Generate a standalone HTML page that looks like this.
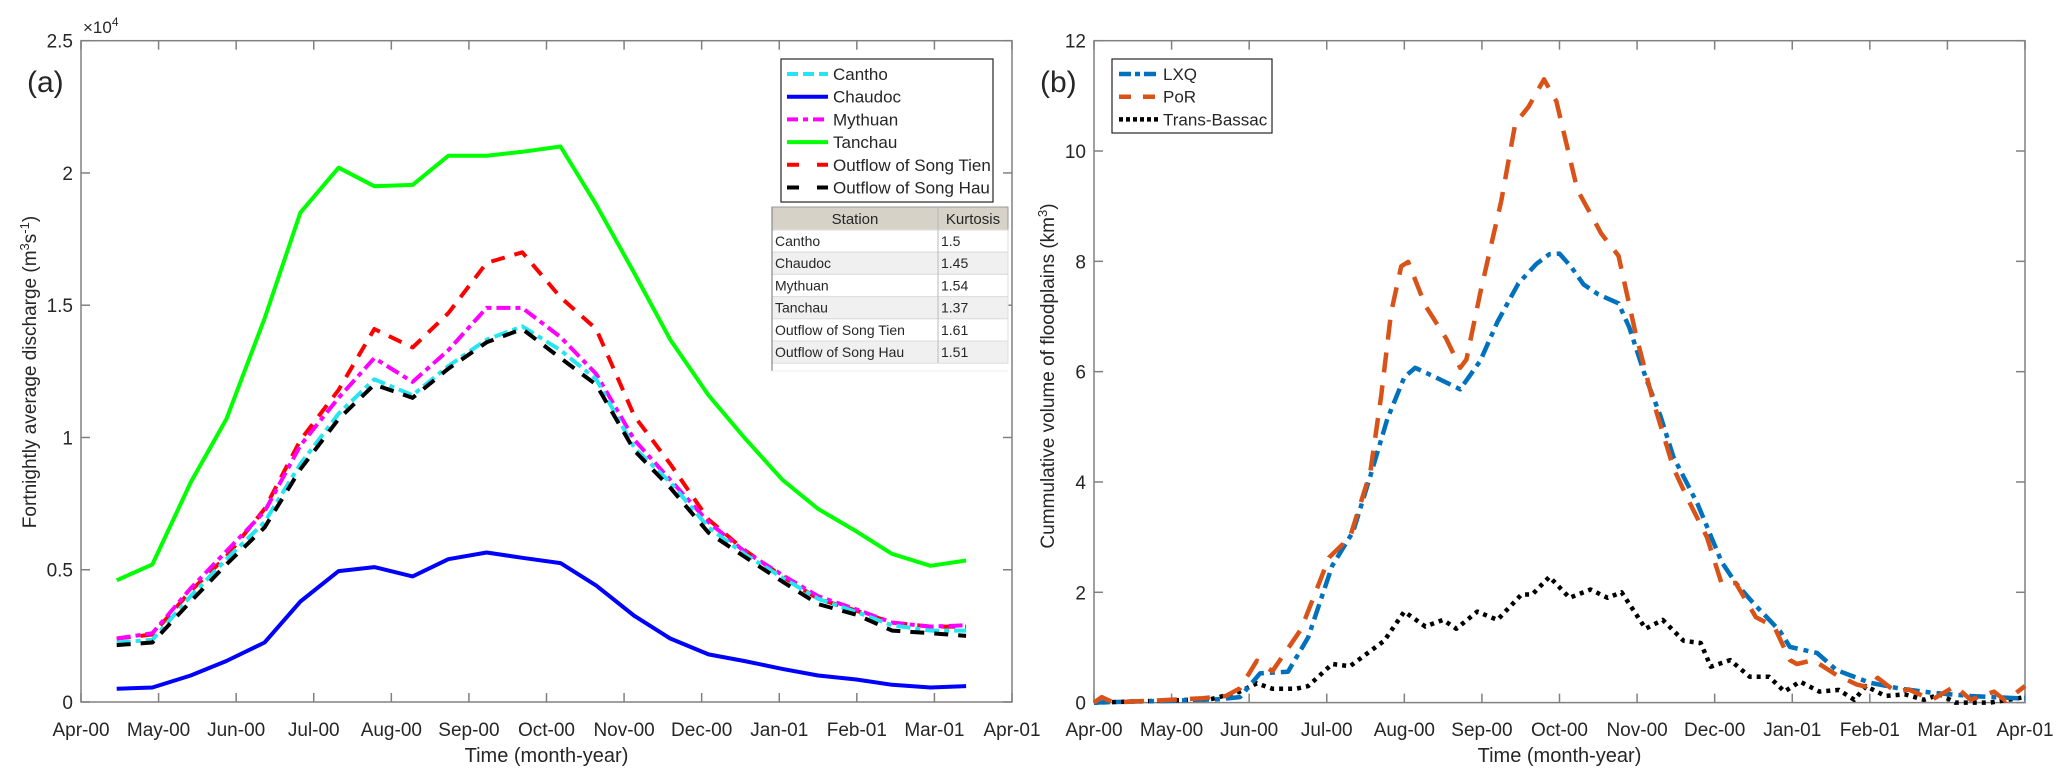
<!DOCTYPE html>
<html><head><meta charset="utf-8"><style>
html,body{margin:0;padding:0;background:#fff;}
svg text{font-family:"Liberation Sans",Arial,sans-serif;fill:#262626;}
</style></head><body>
<svg id="fig" width="2067" height="778" xmlns="http://www.w3.org/2000/svg">
<g id="pa"></g>
<g id="pb"></g>
</svg>
<script>
// ---- Panel (a) data ----
const monthLabels = ["Apr-00","May-00","Jun-00","Jul-00","Aug-00","Sep-00","Oct-00","Nov-00","Dec-00","Jan-01","Feb-01","Mar-01","Apr-01"];
const aDays = [14,28,43,57,72,86,101,115,130,144,159,173,188,202,217,231,246,260,275,289,304,318,333,347];
const aYTicks = [0,0.5,1,1.5,2,2.5];
const cantho = [0.225,0.235,0.40,0.54,0.68,0.90,1.09,1.22,1.16,1.27,1.37,1.42,1.33,1.22,0.96,0.83,0.66,0.56,0.47,0.39,0.34,0.29,0.27,0.27];
const chaudoc = [0.05,0.055,0.10,0.155,0.225,0.38,0.495,0.51,0.475,0.54,0.565,0.545,0.525,0.44,0.325,0.24,0.18,0.155,0.125,0.10,0.085,0.065,0.055,0.06];
const mythuan = [0.24,0.26,0.43,0.57,0.72,0.97,1.15,1.30,1.21,1.33,1.49,1.49,1.38,1.24,0.99,0.84,0.68,0.57,0.48,0.40,0.35,0.30,0.285,0.29];
const tanchau = [0.46,0.52,0.83,1.07,1.45,1.85,2.02,1.95,1.955,2.065,2.065,2.08,2.10,1.88,1.62,1.37,1.16,1.00,0.84,0.73,0.645,0.56,0.515,0.535];
const songTien = [0.24,0.255,0.42,0.55,0.73,0.99,1.18,1.41,1.34,1.47,1.66,1.70,1.53,1.41,1.08,0.90,0.69,0.575,0.475,0.39,0.345,0.30,0.285,0.285];
const songHau = [0.215,0.225,0.38,0.52,0.66,0.88,1.07,1.20,1.15,1.26,1.36,1.41,1.30,1.20,0.95,0.81,0.64,0.55,0.455,0.37,0.33,0.27,0.26,0.25];
const kurtStations = ["Cantho","Chaudoc","Mythuan","Tanchau","Outflow of Song Tien","Outflow of Song Hau"];
const kurtValues = ["1.5","1.45","1.54","1.37","1.61","1.51"];
// ---- Panel (b) data (months since Apr-00, km3) ----
const lxqT = [0,0.5,1,1.3,1.6,1.88,2.14,2.5,2.76,3.07,3.34,3.56,3.78,4.0,4.14,4.4,4.72,4.98,5.2,5.47,5.7,5.87,6.0,6.15,6.31,6.5,6.76,6.9,7.11,7.3,7.47,7.78,8.09,8.27,8.5,8.84,8.97,9.32,9.57,10.0,10.4,10.8,11.3,11.9,12];
const lxqV = [0,0.02,0.03,0.05,0.06,0.1,0.53,0.56,1.18,2.48,3.1,4.1,5.14,5.9,6.07,5.9,5.68,6.2,6.9,7.6,7.95,8.13,8.14,7.9,7.58,7.4,7.24,6.8,5.9,5.2,4.45,3.6,2.55,2.17,1.8,1.3,1.01,0.9,0.59,0.36,0.25,0.18,0.12,0.08,0.08];
const porT = [0,0.1,0.25,0.5,1.0,1.4,1.7,1.88,2.1,2.3,2.67,3.03,3.3,3.56,3.7,3.83,3.96,4.05,4.27,4.54,4.72,4.8,4.98,5.25,5.43,5.6,5.8,5.96,6.23,6.54,6.76,6.98,7.2,7.47,7.65,7.9,8.09,8.27,8.53,8.77,8.97,9.06,9.27,9.57,9.83,10.0,10.1,10.33,10.5,10.8,11.1,11.3,11.6,11.75,12.0];
const porV = [0,0.1,0,0.02,0.05,0.08,0.12,0.26,0.76,0.57,1.33,2.63,3.0,4.17,5.55,7.07,7.91,7.99,7.2,6.6,6.07,6.22,7.44,9.1,10.5,10.8,11.3,10.9,9.3,8.5,8.1,6.7,5.5,4.25,3.7,3.0,2.16,2.17,1.55,1.37,0.77,0.7,0.77,0.5,0.33,0.27,0.45,0.2,0.24,0.05,0.3,0.05,0.2,0.03,0.3];
const tbT = [0,0.5,1,1.5,1.88,2.1,2.3,2.6,2.76,3.07,3.3,3.74,4.0,4.27,4.5,4.67,4.94,5.2,5.51,5.65,5.87,6.13,6.4,6.62,6.8,7.11,7.33,7.6,7.82,7.95,8.2,8.45,8.7,8.9,9.1,9.35,9.6,9.8,9.95,10.2,10.45,10.7,10.9,11.1,11.55,12.0];
const tbV = [0,0.02,0.04,0.06,0.2,0.35,0.25,0.25,0.3,0.7,0.66,1.12,1.65,1.38,1.5,1.34,1.65,1.5,1.96,1.96,2.28,1.9,2.05,1.9,2.0,1.34,1.5,1.12,1.08,0.65,0.77,0.47,0.47,0.2,0.38,0.2,0.23,0.05,0.3,0.12,0.15,0.05,0.15,0,0,0.1];
const bYTicks = [0,2,4,6,8,10,12];

const NS="http://www.w3.org/2000/svg";
function mk(parent,tag,attrs,text){const e=document.createElementNS(NS,tag);for(const k in attrs)e.setAttribute(k,attrs[k]);if(text!==undefined)e.textContent=text;parent.appendChild(e);return e;}

function axes(g,L,R,T,B,yTicks,yFn,yFmt){
  const box=mk(g,'rect',{x:L,y:T,width:R-L,height:B-T,fill:'none',stroke:'#808080','stroke-width':1.5});
  
  
  const mw=(R-L)/12;
  monthLabels.forEach((m,i)=>{
    const x=L+i*mw;
    mk(g,'line',{x1:x,y1:B,x2:x,y2:B-9,stroke:'#808080','stroke-width':1.5});
    mk(g,'line',{x1:x,y1:T,x2:x,y2:T+9,stroke:'#808080','stroke-width':1.5});
    const t=mk(g,'text',{x:x,y:736,'font-size':19,'text-anchor':'middle'},m);
    
    
  });
  yTicks.forEach(v=>{
    const y=yFn(v);
    mk(g,'line',{x1:L,y1:y,x2:L+9,y2:y,stroke:'#808080','stroke-width':1.5});
    mk(g,'line',{x1:R,y1:y,x2:R-9,y2:y,stroke:'#808080','stroke-width':1.5});
    const t=mk(g,'text',{x:L-8,y:y+7,'font-size':19,'text-anchor':'end'},yFmt(v));
    
    
  });
  const xt=mk(g,'text',{x:(L+R)/2,y:762,'font-size':20,'text-anchor':'middle'},'Time (month-year)');
  
  
}
function poly(g,xs,ys,xf,yf,color,w,dash,name){
  const pts=xs.map((x,i)=>xf(x).toFixed(1)+','+yf(ys[i]).toFixed(1)).join(' ');
  const p=mk(g,'polyline',{points:pts,fill:'none',stroke:color,'stroke-width':w,'stroke-linejoin':'round'});
  if(dash)p.setAttribute('stroke-dasharray',dash);
  
  
}

// ---- Panel a ----
(function(){
  const g=document.getElementById('pa');
  const L=81,R=1012,T=40.7,B=702;
  const xf=d=>L+d/365*(R-L);
  const yf=v=>B-v/2.5*(B-T);
  axes(g,L,R,T,B,aYTicks,yf,v=>String(v));
  const ex=mk(g,'text',{x:83,y:33,'font-size':17},'\u00d710');
  
  
  mk(ex,'tspan',{dy:-7,'font-size':12},'4');
  const lab=mk(g,'text',{x:27,y:92,'font-size':30},'(a)');
  
  
  const yt=mk(g,'text',{x:0,y:0,'font-size':19,'text-anchor':'middle',transform:'translate(36,372) rotate(-90)'},'Fortnightly average discharge (m');
  
  
  mk(yt,'tspan',{dy:-7,'font-size':13},'3');
  mk(yt,'tspan',{dy:7},'s');
  mk(yt,'tspan',{dy:-7,'font-size':13},'-1');
  mk(yt,'tspan',{dy:7},')');
  const series=[
    [tanchau,'#00ff00',4,null,'line-tanchau'],
    [chaudoc,'#0000ff',4,null,'line-chaudoc'],
    [songTien,'#ff0000',4,'14 10','line-outflow-song-tien'],
    [mythuan,'#ff00ff',4,'14 5 5 5','line-mythuan'],
    [cantho,'#22e6f2',4,'14 5 5 5','line-cantho'],
    [songHau,'#000000',4,'14 10','line-outflow-song-hau']];
  series.forEach(s=>poly(g,aDays,s[0],xf,yf,s[1],s[2],s[3],s[4]));
  const lg=mk(g,'g',{});
  
  
  mk(lg,'rect',{x:781,y:59,width:212,height:143,fill:'#fff',stroke:'#262626','stroke-width':1.2});
  const ent=[['Cantho','#22e6f2','11 5'],['Chaudoc','#0000ff',null],['Mythuan','#ff00ff','11 5 5 5'],['Tanchau','#00ff00',null],['Outflow of Song Tien','#ff0000','12 18'],['Outflow of Song Hau','#000000','12 18']];
  ent.forEach((e,i)=>{
    const y=74+i*22.7;
    const li=mk(lg,'line',{x1:787,y1:y,x2:828,y2:y,stroke:e[1],'stroke-width':4});
    if(e[2])li.setAttribute('stroke-dasharray',e[2]);
    const t=mk(lg,'text',{x:833,y:y+6,'font-size':17},e[0]);
    
    
  });
  const tb=mk(g,'g',{});
  
  
  mk(tb,'rect',{x:772,y:207,width:236,height:164,fill:'#fff',stroke:'none'});
  mk(tb,'rect',{x:772,y:207,width:236,height:23,fill:'#d6d2c8',stroke:'#999','stroke-width':1});
  mk(tb,'text',{x:855,y:224,'font-size':15,'text-anchor':'middle'},'Station');
  mk(tb,'text',{x:973,y:224,'font-size':15,'text-anchor':'middle'},'Kurtosis');
  kurtStations.forEach((s,i)=>{
    const y=230+i*22.2;
    mk(tb,'rect',{x:772,y:y,width:236,height:22.2,fill:i%2?'#f0f0f0':'#fff',stroke:'#ddd','stroke-width':1});
    const t=mk(tb,'text',{x:775,y:y+16,'font-size':14},s);
    
    
    const k=mk(tb,'text',{x:941,y:y+16,'font-size':14},kurtValues[i]);
    
    
  });
  mk(tb,'line',{x1:938,y1:207,x2:938,y2:363,stroke:'#bbb','stroke-width':1});
  mk(tb,'line',{x1:772,y1:207,x2:772,y2:371,stroke:'#888','stroke-width':1.2});
  mk(tb,'line',{x1:772,y1:371,x2:1008,y2:371,stroke:'#eee','stroke-width':1});
})();

// ---- Panel b ----
(function(){
  const g=document.getElementById('pb');
  const L=1094,R=2025,T=40.7,B=702.6;
  const xf=m=>L+m/12*(R-L);
  const yf=v=>B-v/12*(B-T);
  axes(g,L,R,T,B,bYTicks,yf,v=>String(v));
  const lab=mk(g,'text',{x:1040,y:92,'font-size':30},'(b)');
  
  
  const yt=mk(g,'text',{x:0,y:0,'font-size':19,'text-anchor':'middle',transform:'translate(1054,376) rotate(-90)'},'Cummulative volume of floodplains (km');
  
  
  mk(yt,'tspan',{dy:-7,'font-size':13},'3');
  mk(yt,'tspan',{dy:7},')');
  poly(g,tbT,tbV,xf,yf,'#000000',4.5,'4 5','line-trans-bassac');
  poly(g,lxqT,lxqV,xf,yf,'#0072bd',4.5,'16 6 5 6','line-lxq');
  poly(g,porT,porV,xf,yf,'#d95319',4.5,'20 13','line-por');
  const lg=mk(g,'g',{});
  
  
  mk(lg,'rect',{x:1112,y:59,width:160,height:74,fill:'#fff',stroke:'#262626','stroke-width':1.2});
  const ent=[['LXQ','#0072bd','12 4 5 4'],['PoR','#d95319','12 12'],['Trans-Bassac','#000','4 3']];
  ent.forEach((e,i)=>{
    const y=74+i*22.7;
    mk(lg,'line',{x1:1119,y1:y,x2:1158,y2:y,stroke:e[1],'stroke-width':4.5,'stroke-dasharray':e[2]});
    const t=mk(lg,'text',{x:1163,y:y+6,'font-size':17},e[0]);
    
    
  });
})();
</script>
</body></html>
